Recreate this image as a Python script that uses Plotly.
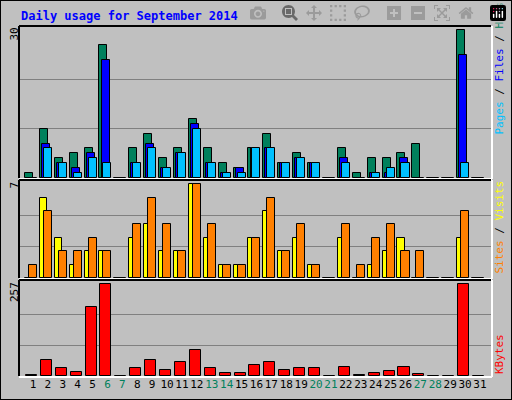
import plotly.graph_objects as go

days = list(range(1, 32))
hits  = [1,10,4,5,6,27,0,6,9,4,6,12,6,3,2,6,9,3,5,3,0,6,1,4,4,5,7,0,0,30,0]
files = [0,7,3,2,5,24,0,3,7,2,5,11,3,1,2,6,6,3,4,3,0,4,0,1,1,4,0,0,0,25,0]
pages = [0,6,3,1,4,3,0,3,6,2,5,10,3,1,1,6,6,3,4,3,0,3,0,1,2,3,0,0,0,3,0]
visits= [0,6,3,1,2,2,0,3,4,2,2,7,3,1,1,3,5,2,3,1,0,3,0,1,2,3,0,0,0,3,0]
sites = [1,5,2,2,3,2,0,4,6,4,2,7,4,1,1,3,6,2,4,1,0,4,1,3,4,2,2,0,0,5,0]
kbytes= [3,46,23,12,192,257,0,23,46,18,38,74,23,9,9,32,40,18,23,23,0,26,3,9,15,26,6,0,0,257,0]
weekend = [6,7,13,14,20,21,27,28]
max_hits, max_visits, max_kb = 30, 7, 257

W, H = 512, 400
def px(x): return x / W
def py(y): return 1 - y / H

fig = go.Figure()
line = dict(color="black", width=1)
def bar(y, color, off, w, xa, ya):
    fig.add_trace(go.Bar(x=days, y=y, offset=off, width=w, marker=dict(color=color, line=line),
                         xaxis=xa, yaxis=ya, showlegend=False, hoverinfo="skip"))
bar(hits, "#00805C", -0.54, 0.54, "x", "y")
bar(files, "#0000FF", -0.40, 0.54, "x", "y")
bar(pages, "#00C0FF", -0.27, 0.54, "x", "y")
bar(visits, "#FFFF00", -0.54, 0.5, "x2", "y2")
bar(sites, "#FF8000", -0.27, 0.54, "x2", "y2")
bar(kbytes, "#FF0000", -0.47, 0.74, "x3", "y3")

xdom = [px(20), px(491)]
xr = [0.13, 31.74]
ticktext = [f"<span style='color:#00805C'>{d}</span>" if d in weekend else str(d) for d in days]
common_x = dict(domain=xdom, range=xr, showgrid=False, zeroline=False, fixedrange=True, automargin=False)
fig.update_layout(
    width=W, height=H, margin=dict(l=0, r=0, t=0, b=0, autoexpand=False),
    paper_bgcolor="#C0C0C0", plot_bgcolor="#C0C0C0", barmode="overlay", bargap=0,
    font=dict(family="DejaVu Sans Mono", size=11, color="black"),
    xaxis=dict(**common_x, showticklabels=False, anchor="y"),
    xaxis2=dict(**common_x, showticklabels=False, anchor="y2"),
    xaxis3=dict(**common_x, anchor="y3", tickvals=days, ticktext=ticktext, ticks="", tickangle=0,
                tickfont=dict(size=11)),
    yaxis=dict(domain=[py(178), py(26)], range=[0, max_hits*1.03], tickvals=[max_hits/3, 2*max_hits/3],
               showticklabels=False, gridcolor="#808080", zeroline=False),
    yaxis2=dict(domain=[py(278), py(180)], range=[0, max_visits*1.045], tickvals=[max_visits/3, 2*max_visits/3],
                showticklabels=False, gridcolor="#808080", zeroline=False),
    yaxis3=dict(domain=[py(376), py(280)], range=[0, max_kb*1.045], tickvals=[max_kb/3, 2*max_kb/3],
                showticklabels=False, gridcolor="#808080", zeroline=False),
)

shapes = [dict(type="rect", xref="paper", yref="paper", x0=0, x1=1, y0=0, y1=1,
               line=dict(color="black", width=2))]
for top, bot in [(26, 178), (180, 278), (280, 376)]:
    shapes.append(dict(type="line", xref="paper", yref="paper", x0=px(19), x1=px(491), y0=py(top), y1=py(top), line=dict(color="black", width=2)))
    shapes.append(dict(type="line", xref="paper", yref="paper", x0=px(19), x1=px(19), y0=py(top), y1=py(bot), line=dict(color="black", width=2)))
    shapes.append(dict(type="line", xref="paper", yref="paper", x0=px(19), x1=px(492), y0=py(bot+1), y1=py(bot+1), line=dict(color="white", width=2)))
    shapes.append(dict(type="line", xref="paper", yref="paper", x0=px(492), x1=px(492), y0=py(top), y1=py(bot+1), line=dict(color="white", width=2)))
fig.update_layout(shapes=shapes)

ann = [
    dict(text="<b>Daily usage for September 2014</b>", x=px(19), y=py(16), xanchor="left", yanchor="middle",
         font=dict(color="#0000FF", size=12)),
    dict(text=str(max_hits), x=px(14), y=py(26), textangle=-90, xanchor="center", yanchor="top"),
    dict(text=str(max_visits), x=px(14), y=py(180), textangle=-90, xanchor="center", yanchor="top"),
    dict(text=str(max_kb), x=px(14), y=py(280), textangle=-90, xanchor="center", yanchor="top"),
    dict(text="<span style='color:#00C0FF'>Pages</span> / <span style='color:#0000FF'>Files</span> / <span style='color:#00805C'>Hits</span>",
         x=px(499), y=py(137), textangle=-90, xanchor="center", yanchor="bottom"),
    dict(text="<span style='color:#FF8000'>Sites</span> / <span style='color:#FFFF00'>Visits</span>",
         x=px(499), y=py(276), textangle=-90, xanchor="center", yanchor="bottom"),
    dict(text="<span style='color:#FF0000'>KBytes</span>",
         x=px(499), y=py(376), textangle=-90, xanchor="center", yanchor="bottom"),
]
for a in ann:
    a.update(xref="paper", yref="paper", showarrow=False)
fig.update_layout(annotations=ann)
fig.write_html("out.html", post_script="document.body.style.margin='0';document.body.style.overflow='hidden';")
